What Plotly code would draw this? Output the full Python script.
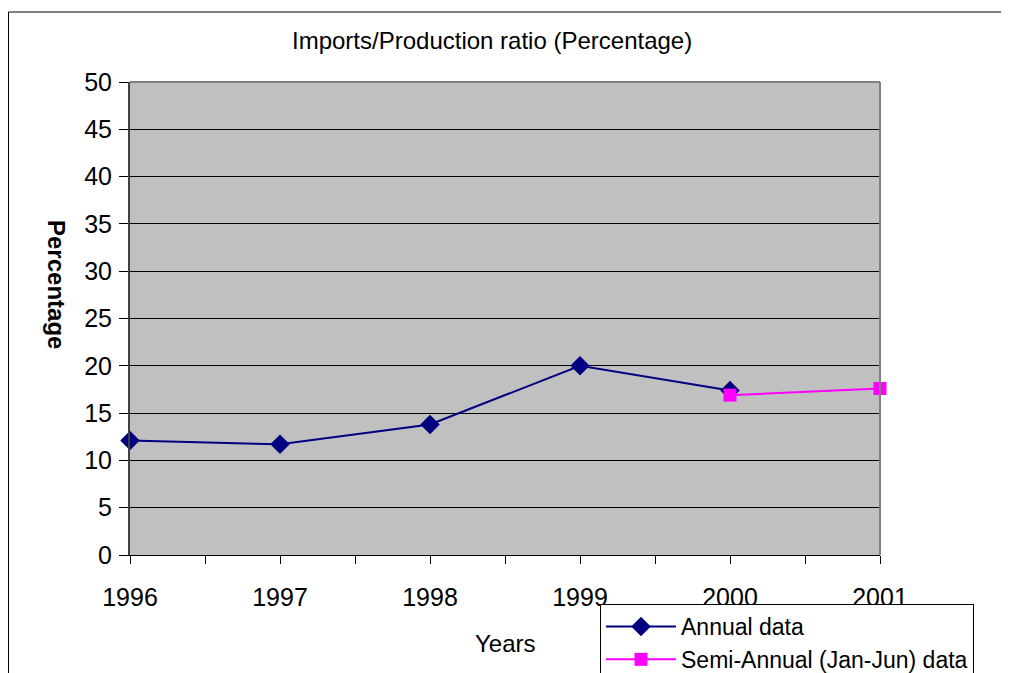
import plotly.graph_objects as go

years = [1996, 1997, 1998, 1999, 2000]
annual = [12.1, 11.7, 13.8, 20.0, 17.4]
semi_years = [2000, 2001]
semi_annual = [16.9, 17.6]
x_ticks = [1996, 1997, 1998, 1999, 2000, 2001]
y_ticks = [0, 5, 10, 15, 20, 25, 30, 35, 40, 45, 50]

OFF = 8  # page body margin
W, H = 1009, 673
# plot area in screen pixels: x 130..880, y 82..555
L, T = 130 - OFF, 82 - OFF
pw, ph = 750, 473
R = W - L - pw
B = H - T - ph


def sx(p):  # screen px -> paper x
    return (p - OFF - L) / pw


def sy(p):  # screen px -> paper y
    return (H - B - (p - OFF)) / ph


fig = go.Figure()
fig.add_trace(go.Scatter(
    x=years, y=annual, mode="lines+markers", name="Annual data",
    line=dict(color="#000080", width=2),
    marker=dict(symbol="diamond", size=15, color="#000080"),
    cliponaxis=False,
))
fig.add_trace(go.Scatter(
    x=semi_years, y=semi_annual, mode="lines+markers",
    name="Semi-Annual (Jan-Jun) data",
    line=dict(color="#FF00FF", width=2),
    marker=dict(symbol="square", size=13, color="#FF00FF"),
    cliponaxis=False,
))

font = "Liberation Sans, Arial, sans-serif"
fig.update_layout(
    width=W, height=H,
    margin=dict(l=L, r=R, t=T, b=B, autoexpand=False),
    paper_bgcolor="white", plot_bgcolor="#C0C0C0",
    font=dict(family=font, size=25, color="black"),
    showlegend=True,
    legend=dict(x=sx(600), y=sy(604), xanchor="left", yanchor="top",
                bordercolor="black", borderwidth=1, bgcolor="white",
                font=dict(size=23), tracegroupgap=0, itemwidth=70),
    xaxis=dict(range=[1996, 2001], tickmode="array", tickvals=x_ticks,
               ticktext=[str(v) for v in x_ticks],
               ticks="outside", ticklen=8, tickcolor="black", tickwidth=1,
               ticklabelstandoff=12, tickfont=dict(size=25),
               minor=dict(dtick=0.5, tick0=1996, ticks="outside", ticklen=8,
                          tickcolor="black", showgrid=False),
               showgrid=False, showline=True, linecolor="black", linewidth=1,
               zeroline=False),
    yaxis=dict(range=[0, 50], tickvals=y_ticks, ticks="outside", ticklen=9,
               tickcolor="black", tickfont=dict(size=25), ticklabelstandoff=2,
               showgrid=True, gridcolor="black", gridwidth=1,
               showline=True, linecolor="#404040", linewidth=2, zeroline=False),
    annotations=[
        dict(text="Imports/Production ratio (Percentage)", xref="paper", yref="paper",
             x=sx(492), y=sy(40), xanchor="center", yanchor="middle",
             showarrow=False, font=dict(size=24)),
        dict(text="Years", xref="paper", yref="paper", x=sx(505), y=sy(643),
             xanchor="center", yanchor="middle", showarrow=False, font=dict(size=24)),
        dict(text="<b>Percentage</b>", xref="paper", yref="paper", x=sx(57), y=sy(284),
             xanchor="center", yanchor="middle", showarrow=False, textangle=90,
             font=dict(size=24)),
    ],
)
# plot area right/top outline in gray
fig.add_shape(type="line", xref="paper", yref="paper", x0=1, x1=1, y0=0, y1=1,
              line=dict(color="#808080", width=2))
fig.add_shape(type="line", xref="paper", yref="paper", x0=0, x1=1, y0=1, y1=1,
              line=dict(color="#808080", width=2))
# outer chart border (top and left)
fig.add_shape(type="line", xref="paper", yref="paper", x0=sx(8.5), x1=sx(W + 20),
              y0=sy(12), y1=sy(12), line=dict(color="black", width=1))
fig.add_shape(type="line", xref="paper", yref="paper", x0=sx(8.5), x1=sx(8.5),
              y0=sy(12), y1=sy(H + 20), line=dict(color="black", width=1))

fig.write_html("out.html")
